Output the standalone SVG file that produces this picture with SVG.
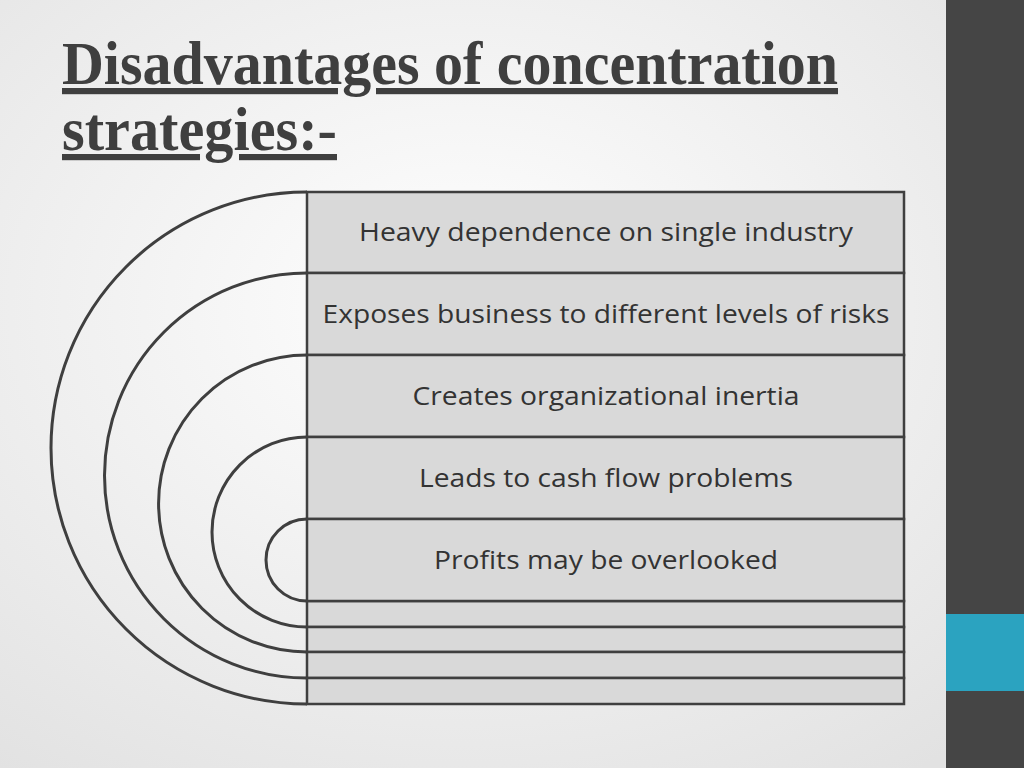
<svg xmlns="http://www.w3.org/2000/svg" width="1024" height="768" viewBox="0 0 1024 768">
<defs>
<radialGradient id="bg" cx="0.45" cy="0.4" r="0.75"><stop offset="0" stop-color="#ffffff"/><stop offset="1" stop-color="#e2e2e2"/></radialGradient>
<style>
.row{fill:#d9d9d9;stroke:#3f3f3f;stroke-width:2.5}
.arc{fill:none;stroke:#3f3f3f;stroke-width:3}
.lbl{font-family:"Open Sans",sans-serif;font-size:25px;fill:#333;text-anchor:middle;font-variant-ligatures:none}
.ttl{font-family:"Liberation Serif",serif;font-weight:bold;font-size:62px;fill:#3f3f3f;text-decoration:underline}
</style>
</defs>
<rect width="1024" height="768" fill="url(#bg)"/>
<rect x="946" y="0" width="78" height="768" fill="#454545"/>
<rect x="946" y="614" width="78" height="77" fill="#2ba3c0"/>
<text class="ttl" x="62" y="84" textLength="776" lengthAdjust="spacingAndGlyphs">Disadvantages of concentration</text>
<text class="ttl" x="62" y="150" textLength="275" lengthAdjust="spacingAndGlyphs">strategies:-</text>
<g id="connectors">
<path class="arc" d="M307,192 A256,256 0 0 0 307,704"/>
<path class="arc" d="M307,273 A202.5,202.5 0 0 0 307,678"/>
<path class="arc" d="M307,355 A148.5,148.5 0 0 0 307,652"/>
<path class="arc" d="M307,437 A95,95 0 0 0 307,627"/>
<path class="arc" d="M307,519 A41,41 0 0 0 307,601"/>
</g>
<g id="strips">
<rect class="row" x="307" y="601" width="597" height="26"/>
<rect class="row" x="307" y="627" width="597" height="25"/>
<rect class="row" x="307" y="652" width="597" height="26"/>
<rect class="row" x="307" y="678" width="597" height="26"/>
</g>
<g id="n1"><rect class="row" x="307" y="192" width="597" height="81"/><text class="lbl" x="606" y="241" textLength="494" lengthAdjust="spacingAndGlyphs">Heavy dependence on single industry</text></g>
<g id="n2"><rect class="row" x="307" y="273" width="597" height="82"/><text class="lbl" x="606" y="323" textLength="567" lengthAdjust="spacingAndGlyphs">Exposes business to different levels of risks</text></g>
<g id="n3"><rect class="row" x="307" y="355" width="597" height="82"/><text class="lbl" x="606" y="405" textLength="387" lengthAdjust="spacingAndGlyphs">Creates organizational inertia</text></g>
<g id="n4"><rect class="row" x="307" y="437" width="597" height="82"/><text class="lbl" x="606" y="487" textLength="374" lengthAdjust="spacingAndGlyphs">Leads to cash flow problems</text></g>
<g id="n5"><rect class="row" x="307" y="519" width="597" height="82"/><text class="lbl" x="606" y="569" textLength="344" lengthAdjust="spacingAndGlyphs">Profits may be overlooked</text></g>
</svg>
